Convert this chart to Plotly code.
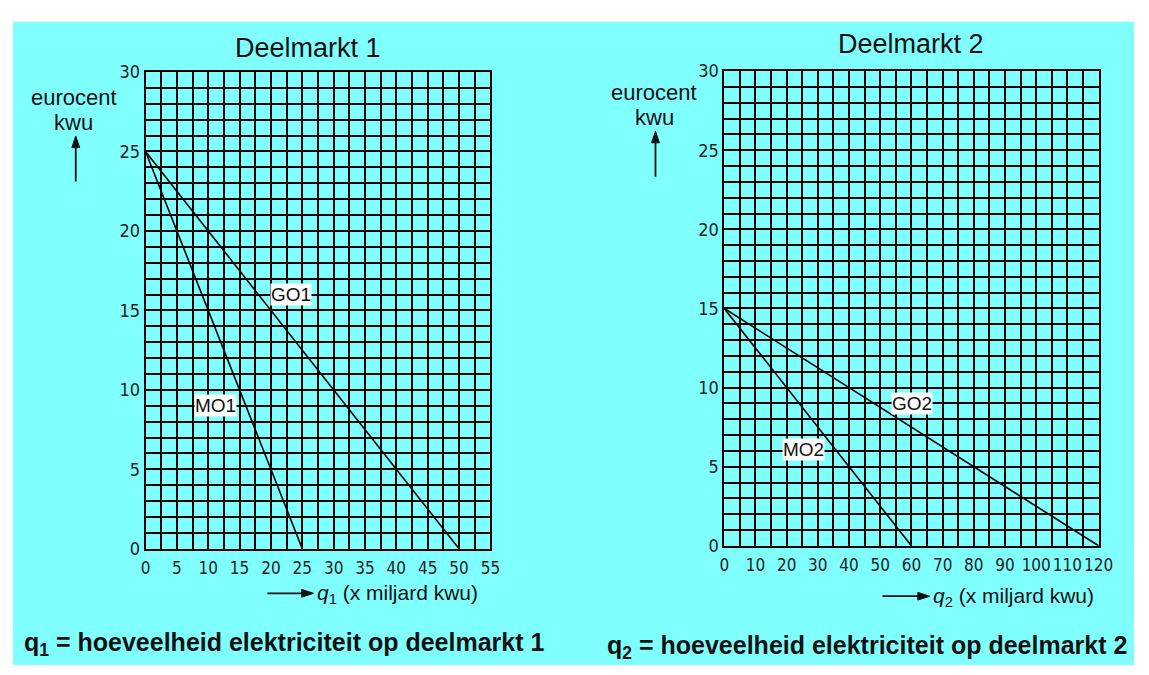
import plotly.graph_objects as go

W, H = 1149, 675

# ---------------- data ----------------
q1_go = [0, 50]
p1_go = [25, 0]
q1_mo = [0, 25]
p1_mo = [25, 0]

q2_go = [0, 120]
p2_go = [15, 0]
q2_mo = [0, 60]
p2_mo = [15, 0]

x1_ticks = [0, 5, 10, 15, 20, 25, 30, 35, 40, 45, 50, 55]
x2_ticks = [0, 10, 20, 30, 40, 50, 60, 70, 80, 90, 100, 110, 120]
y_ticks = [0, 5, 10, 15, 20, 25, 30]

labels1 = ["GO1", "MO1"]
labels1_x = [23.2, 11.1]
labels1_y = [16.0, 9.0]
labels2 = ["GO2", "MO2"]
labels2_x = [60.2, 25.5]
labels2_y = [9.0, 6.1]

CYAN = "#80FFFF"
NARROW = "Liberation Sans Narrow, DejaVu Sans Condensed, Arial Narrow, sans-serif"
SANS = "Liberation Sans, Arial, Helvetica, sans-serif"


def px_x(p):
    return p / W


def px_y(p):
    return 1 - p / H


fig = go.Figure()

line_style = dict(color="black", width=1.6)
fig.add_trace(go.Scatter(x=q1_go, y=p1_go, mode="lines", line=line_style, xaxis="x", yaxis="y", hoverinfo="skip"))
fig.add_trace(go.Scatter(x=q1_mo, y=p1_mo, mode="lines", line=line_style, xaxis="x", yaxis="y", hoverinfo="skip"))
fig.add_trace(go.Scatter(x=q2_go, y=p2_go, mode="lines", line=line_style, xaxis="x2", yaxis="y2", hoverinfo="skip"))
fig.add_trace(go.Scatter(x=q2_mo, y=p2_mo, mode="lines", line=line_style, xaxis="x2", yaxis="y2", hoverinfo="skip"))

xtickfont = dict(family=NARROW, size=17, color="#222")
ytickfont = dict(family=NARROW, size=18, color="#222")

common_x = dict(
    showgrid=True, gridcolor="black", gridwidth=1.5,
    showline=True, linecolor="black", linewidth=1.5, mirror=True,
    zeroline=False, ticks="", tickfont=xtickfont, fixedrange=True,
    ticklabelstandoff=3,
)
common_y = dict(
    showgrid=True, gridcolor="black", gridwidth=1.5,
    showline=True, linecolor="black", linewidth=1.5, mirror=True,
    zeroline=False, ticks="", tickfont=ytickfont, fixedrange=True,
    tickmode="array", tickvals=y_ticks, ticktext=[str(v) for v in y_ticks],
    minor=dict(dtick=1, showgrid=True, gridcolor="black", gridwidth=1.5),
    range=[0, 30],
)

fig.update_layout(
    width=W, height=H,
    margin=dict(l=0, r=0, t=0, b=0),
    paper_bgcolor="white",
    plot_bgcolor="white",
    showlegend=False,
    xaxis=dict(
        common_x, domain=[px_x(143), px_x(494)], range=[0, 55], anchor="y",
        tickmode="array", tickvals=x1_ticks, ticktext=[str(v) for v in x1_ticks],
        minor=dict(dtick=2.5, tick0=0, showgrid=True, gridcolor="black", gridwidth=1.5),
    ),
    yaxis=dict(common_y, domain=[px_y(555), px_y(63)], anchor="x"),
    xaxis2=dict(
        common_x, domain=[px_x(732), px_x(1113)], range=[0, 120], anchor="y2",
        tickmode="array", tickvals=x2_ticks, ticktext=[str(v) for v in x2_ticks],
        minor=dict(dtick=5, tick0=0, showgrid=True, gridcolor="black", gridwidth=1.5),
    ),
    yaxis2=dict(common_y, domain=[px_y(552), px_y(62)], anchor="x2"),
)

shapes = [
    dict(type="rect", xref="paper", yref="paper", x0=px_x(8), x1=1, y0=0, y1=px_y(11),
         fillcolor=CYAN, line=dict(width=0), layer="below"),
]


def arrow(x0, y0, x1, y1):
    """Arrow drawn as layout shapes, pixel positions converted to paper coords."""
    shapes.append(dict(type="line", xref="paper", yref="paper",
                       x0=px_x(x0), y0=px_y(y0), x1=px_x(x1), y1=px_y(y1),
                       line=dict(color="#111", width=1.8)))
    if x0 == x1:  # vertical, pointing up
        pts = [(x1, y1 - 2), (x1 - 4, y1 + 10), (x1 + 4, y1 + 10)]
    else:  # horizontal, pointing right
        pts = [(x1 + 2, y1), (x1 - 10, y1 - 4), (x1 - 10, y1 + 4)]
    path = "M " + " L ".join(f"{px_x(a):.6f},{px_y(b):.6f}" for a, b in pts) + " Z"
    shapes.append(dict(type="path", xref="paper", yref="paper", path=path,
                       fillcolor="#111", line=dict(color="#111", width=1)))


ann = []


def text(x, y, t, size, family=SANS, xanchor="center", color="#111"):
    ann.append(dict(x=px_x(x), y=px_y(y), xref="paper", yref="paper", text=t,
                    showarrow=False, xanchor=xanchor, yanchor="middle",
                    font=dict(family=family, size=size, color=color)))


# titles
text(308, 38, "Deelmarkt 1", 27)
text(922, 34, "Deelmarkt 2", 27)

# y axis labels
text(70, 89, "eurocent", 22)
text(70, 115, "kwu", 22)
arrow(72, 176, 72, 131)
text(661, 84, "eurocent", 22)
text(661, 110, "kwu", 22)
arrow(662, 171, 662, 126)

# x axis labels
arrow(267, 601, 312, 601)
text(315, 602, "<i>q</i><sub>1</sub> (x miljard kwu)", 21, xanchor="left")
arrow(893, 604, 939, 604)
text(942, 605, "<i>q</i><sub>2</sub> (x miljard kwu)", 21, xanchor="left")

# bottom explanation
text(17, 653, "<b>q<sub>1</sub> = hoeveelheid elektriciteit op deelmarkt 1</b>", 25, xanchor="left")
text(611, 656, "<b>q<sub>2</sub> = hoeveelheid elektriciteit op deelmarkt 2</b>", 25, xanchor="left")

# curve labels
for t, x, y in zip(labels1, labels1_x, labels1_y):
    ann.append(dict(x=x, y=y, xref="x", yref="y", text=t, showarrow=False,
                    bgcolor="white", borderpad=0,
                    font=dict(family=SANS, size=19, color="#111")))
for t, x, y in zip(labels2, labels2_x, labels2_y):
    ann.append(dict(x=x, y=y, xref="x2", yref="y2", text=t, showarrow=False,
                    bgcolor="white", borderpad=0,
                    font=dict(family=SANS, size=19, color="#111")))

fig.update_layout(shapes=shapes, annotations=ann)

fig.write_html(
    "out.html",
    config={"displayModeBar": False},
    post_script="document.body.style.margin='0';document.body.style.overflow='hidden';",
)
